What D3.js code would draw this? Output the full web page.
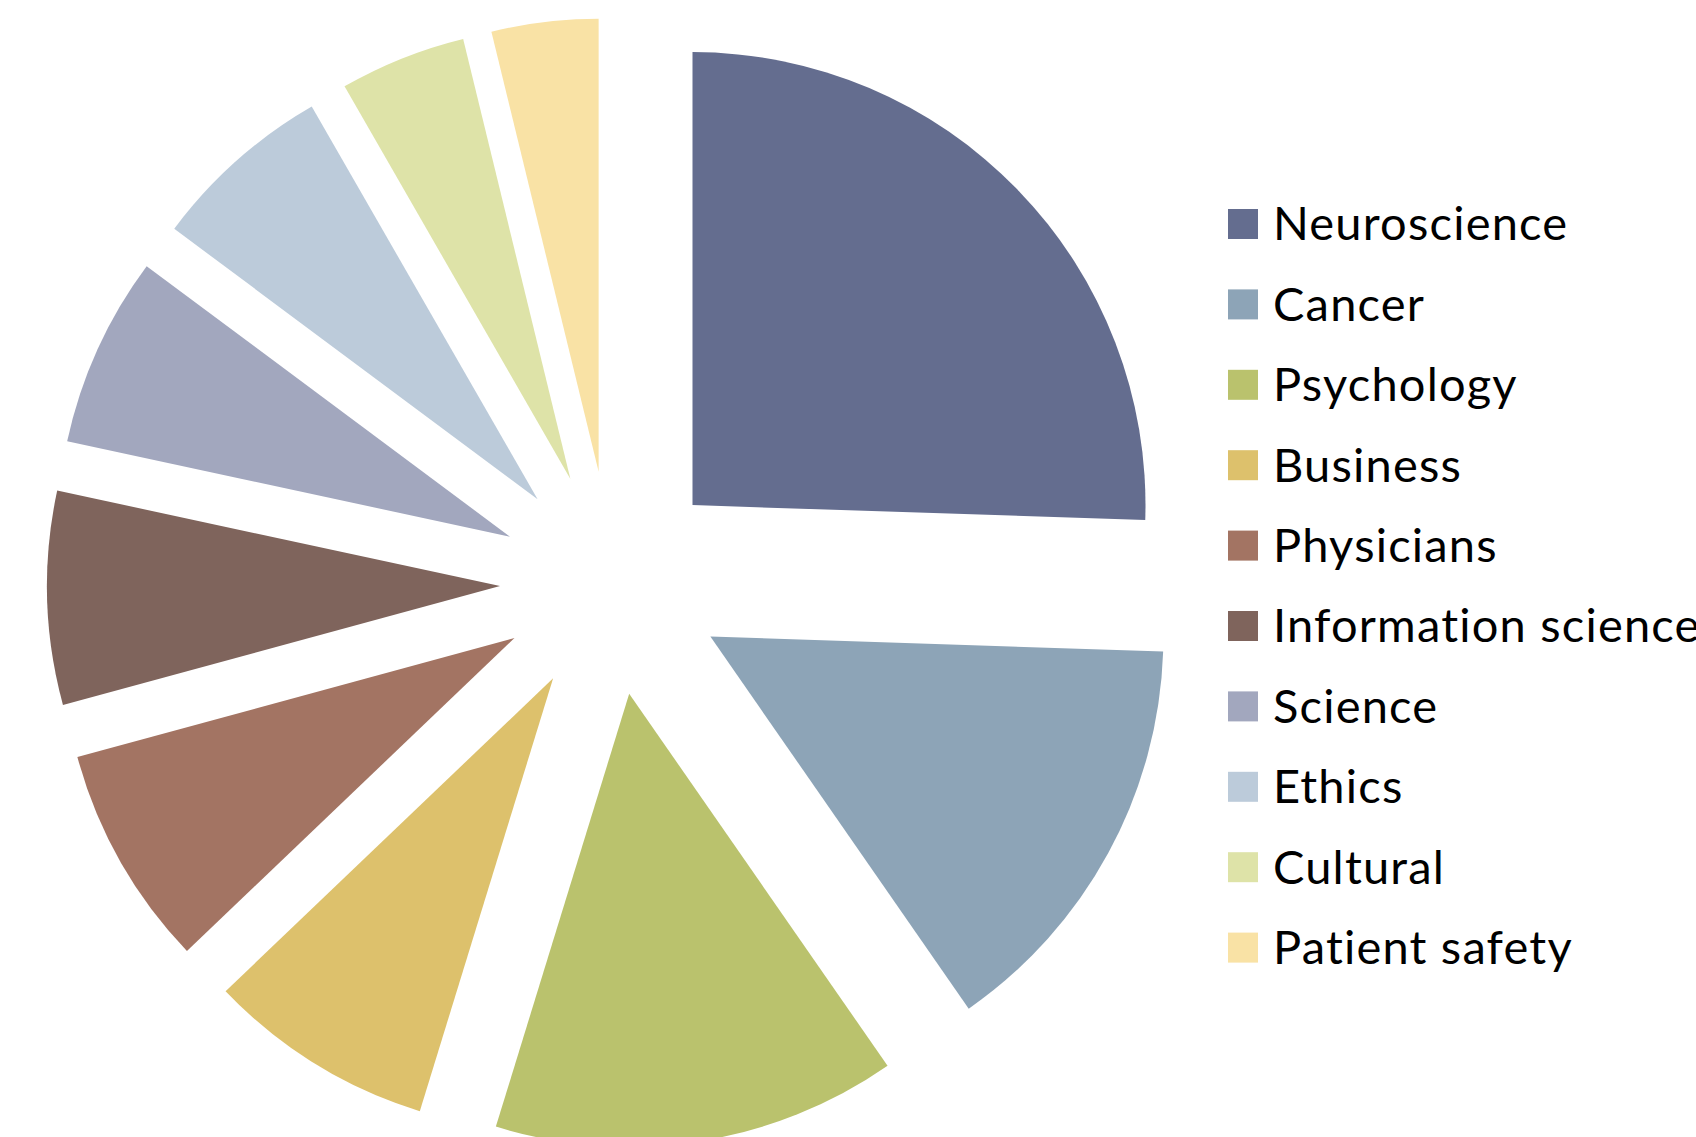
<!DOCTYPE html>
<html>
<head>
<meta charset="utf-8">
<script src="https://cdn.jsdelivr.net/npm/d3@7"></script>
<style>
  body { margin: 0; background: #fff; overflow: hidden; }
  svg { display: block; }
</style>
</head>
<body>
<script>
// Categories and shares (percent of total)
var categories = ["Neuroscience", "Cancer", "Psychology", "Business", "Physicians",
                  "Information science", "Science", "Ethics", "Cultural", "Patient safety"];
var shares = [25.5, 14.8, 14.4, 8.1, 7.9, 7.6, 6.8, 6.5, 4.5, 3.8];
var colors = ["#646d8f", "#8da4b7", "#bac26d", "#ddc16c", "#a37463",
              "#7f645c", "#a2a7be", "#bccbda", "#dee3a8", "#f9e2a5"];

var width = 1696, height = 1137;
var cx = 612, cy = 583, radius = 453, explode = 112;

var svg = d3.select("body")
    .append("svg")
        .attr("width", width)
        .attr("height", height);

var data = categories.map(function(c, i) {
    return {name: c, value: shares[i], color: colors[i]};
});

var pie = d3.pie()
    .sort(null)
    .value(function(d) { return d.value; });

var arc = d3.arc()
    .innerRadius(0)
    .outerRadius(radius);

var g = svg.append("g")
    .attr("transform", "translate(" + cx + "," + cy + ")");

// exploded slices: each pushed out along its own bisector
g.selectAll("path.slice")
    .data(pie(data))
    .enter()
    .append("path")
        .attr("class", "slice")
        .attr("d", arc)
        .attr("fill", function(d) { return d.data.color; })
        .attr("transform", function(d) {
            var mid = (d.startAngle + d.endAngle) / 2;
            return "translate(" + (explode * Math.sin(mid)) + "," + (-explode * Math.cos(mid)) + ")";
        });

// legend
var legendX = 1228, legendY = 209, rowStep = 80.4, box = 30;

var legend = svg.append("g")
    .attr("class", "legend");

var rows = legend.selectAll("g")
    .data(data)
    .enter()
    .append("g")
        .attr("transform", function(d, i) {
            return "translate(" + legendX + "," + (legendY + i * rowStep) + ")";
        });

rows.append("rect")
    .attr("width", box)
    .attr("height", box)
    .attr("fill", function(d) { return d.color; });

rows.append("text")
    .attr("x", 45)
    .attr("y", box / 2)
    .attr("dy", "0.35em")
    .style("font-family", "Lato, 'Open Sans', sans-serif")
    .style("font-size", "47px")
    .style("letter-spacing", "1.2px")
    .style("fill", "#000")
    .text(function(d) { return d.name; });
</script>
</body>
</html>
